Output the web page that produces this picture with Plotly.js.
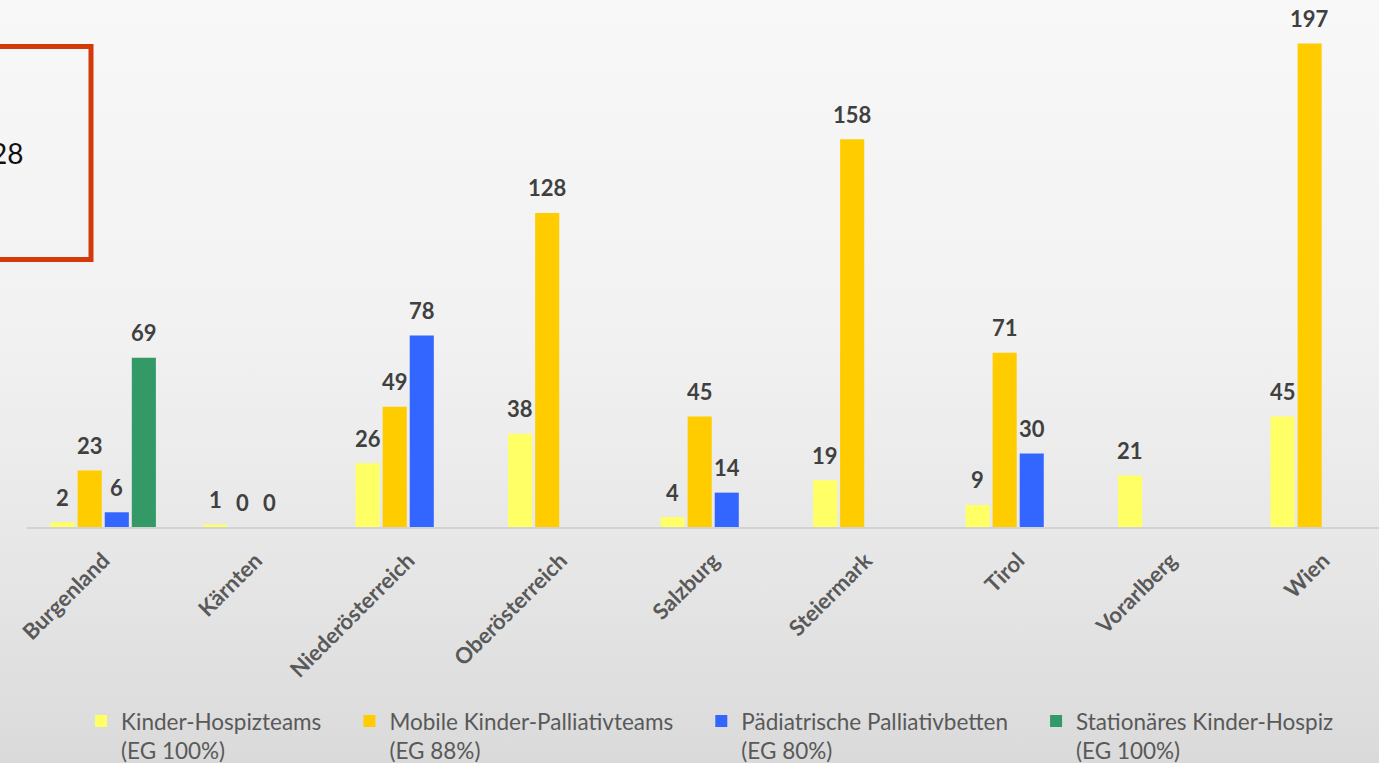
<!DOCTYPE html>
<html>
<head>
<meta charset="utf-8">
<script src="https://cdn.plot.ly/plotly-3.0.1.min.js"></script>
<style>
html, body { margin: 0; padding: 0; width: 1379px; height: 763px; overflow: hidden;
  background: linear-gradient(to bottom, #f8f8f8 0%, #f1f1f1 45%, #e6e6e6 75%, #dadada 100%); }
#chart { width: 1379px; height: 763px; }
</style>
</head>
<body>
<div id="chart"></div>
<script>
const categories = ['Burgenland', 'Kärnten', 'Niederösterreich', 'Oberösterreich', 'Salzburg', 'Steiermark', 'Tirol', 'Vorarlberg', 'Wien'];
const seriesLabels = ['Kinder-Hospizteams', 'Mobile Kinder-Palliativteams', 'Pädiatrische Palliativbetten', 'Stationäres Kinder-Hospiz'];
const seriesNotes = ['(EG 100%)', '(EG 88%)', '(EG 80%)', '(EG 100%)'];
const kinderHospizteams = [2, 1, 26, 38, 4, 19, 9, 21, 45];
const mobileKinderPalliativteams = [23, 0, 49, 128, 45, 158, 71, null, 197];
const paediatrischePalliativbetten = [6, 0, 78, null, 14, null, 30, null, null];
const stationaeresKinderHospiz = [69, null, null, null, null, null, null, null, null];
const seriesColors = ['#FFFF66', '#FFCC00', '#3366FF', '#339966'];
const boxNote = '28';

const seriesValues = [kinderHospizteams, mobileKinderPalliativteams, paediatrischePalliativbetten, stationaeresKinderHospiz];

const bargap = 0.29;
const nSeries = seriesValues.length;
const slot = (1 - bargap) / nSeries;
const legendPad = [4, 4, 4, 0];

const traces = seriesValues.map((vals, k) => ({
  type: 'bar',
  name: seriesLabels[k] + '&nbsp;'.repeat(legendPad[k]) + '<br>' + seriesNotes[k],
  x: categories,
  y: vals,
  marker: { color: seriesColors[k] },
  hoverinfo: 'x+y'
}));

const annotations = [];
seriesValues.forEach((vals, k) => {
  vals.forEach((v, i) => {
    if (v === null) return;
    annotations.push({
      x: i + (k - (nSeries - 1) / 2) * slot,
      y: v,
      xref: 'x', yref: 'y',
      text: String(v),
      showarrow: false,
      xanchor: 'center', yanchor: 'middle',
      yshift: 25,
      font: { family: 'Lato, sans-serif', size: 22, color: '#404040', weight: 'bold' }
    });
  });
});

annotations.push({
  xref: 'paper', yref: 'paper',
  x: -0.0015, y: 0.7377,
  xanchor: 'right', yanchor: 'middle',
  text: boxNote,
  showarrow: false,
  font: { family: 'Lato, sans-serif', size: 28, color: '#111111' }
});

const layout = {
  width: 1379, height: 763,
  margin: { l: 27, r: 0, t: 20, b: 236, autoexpand: false },
  paper_bgcolor: 'rgba(0,0,0,0)',
  plot_bgcolor: 'rgba(0,0,0,0)',
  barmode: 'group',
  bargap: bargap,
  bargroupgap: 0.11,
  showlegend: true,
  font: { family: 'Lato, sans-serif' },
  xaxis: {
    type: 'category',
    range: [-0.5, 8.366],
    tickangle: -45,
    ticks: '',
    ticklabelstandoff: 10,
    tickfont: { family: 'Lato, sans-serif', size: 22, color: '#595959', weight: 'bold' },
    showline: true, linecolor: '#d2d2d2', linewidth: 2,
    showgrid: false, zeroline: false, automargin: false, fixedrange: true
  },
  yaxis: {
    range: [0, 206.6],
    visible: false,
    showgrid: false, zeroline: false, automargin: false, fixedrange: true
  },
  legend: {
    orientation: 'h',
    x: 0.04, xanchor: 'left',
    y: -0.341, yanchor: 'top',
    valign: 'top',
    bgcolor: 'rgba(0,0,0,0)',
    font: { family: 'Lato, sans-serif', size: 22.5, color: '#595959' }
  },
  shapes: [{
    type: 'rect', xref: 'paper', yref: 'paper',
    x0: -0.0422, x1: 0.04734, y0: 0.5276, y1: 0.9477,
    line: { color: '#D23A0A', width: 5 },
    fillcolor: 'rgba(0,0,0,0)'
  }],
  annotations: annotations
};

Plotly.newPlot('chart', traces, layout, { displayModeBar: false, staticPlot: true });
</script>
</body>
</html>
